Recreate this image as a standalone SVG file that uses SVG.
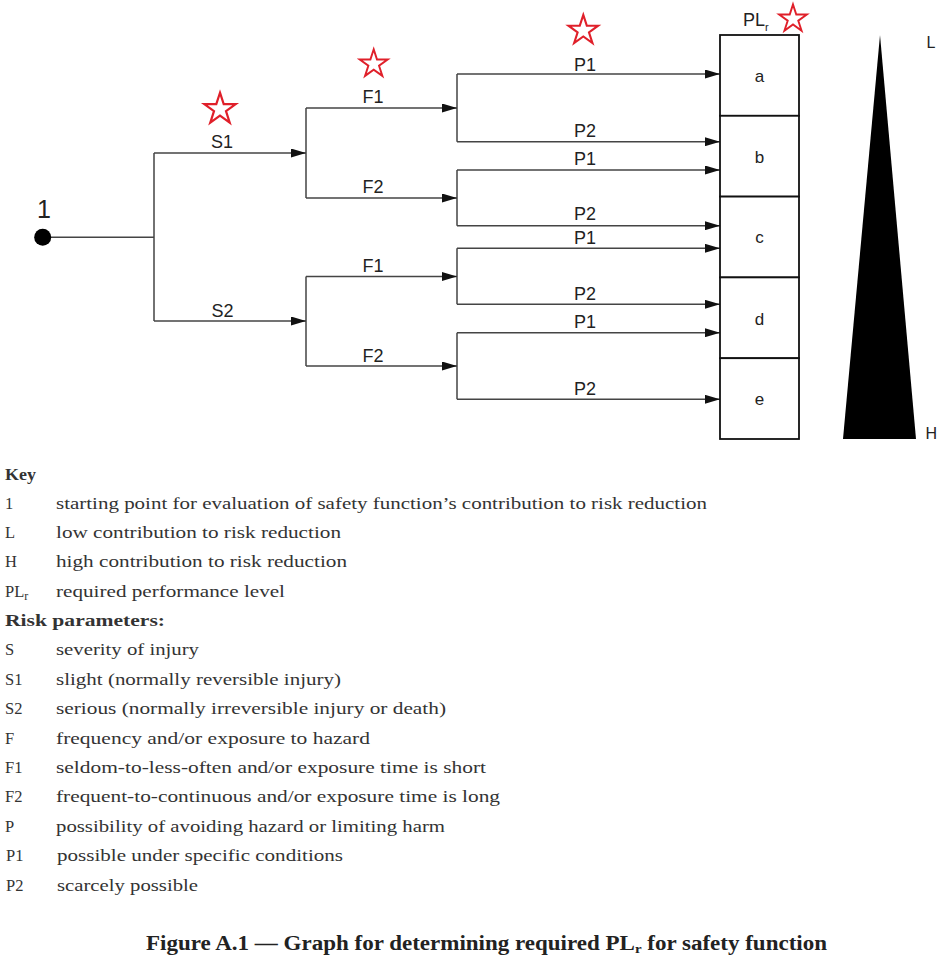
<svg xmlns="http://www.w3.org/2000/svg" width="949" height="964" viewBox="0 0 949 964">
<style>
.lbl{font-family:"Liberation Sans",Arial,sans-serif;font-size:18px;fill:#222;text-anchor:middle}
.cell{fill:#fff;stroke:#111;stroke-width:1.8}
.con{fill:none;stroke:#444;stroke-width:1.5}
.star{fill:none;stroke:#e0202a;stroke-width:2}
.key{font-family:"Liberation Serif","Times New Roman",serif;font-size:16.5px;fill:#333}
.keyb{font-family:"Liberation Serif","Times New Roman",serif;font-size:16.5px;font-weight:bold;fill:#333}
.cap{font-family:"Liberation Serif","Times New Roman",serif;font-size:20px;font-weight:bold;fill:#222}
</style>
<defs>
<marker id="arr" viewBox="0 0 15 9" refX="15" refY="4.5" markerWidth="15" markerHeight="9" markerUnits="userSpaceOnUse" orient="auto">
<path d="M0,0 L15,4.5 L0,9 Z" fill="#111"/>
</marker>
<path id="starShape" d="M0,-15 L3.37,-4.64 L14.27,-4.64 L5.45,1.77 L8.82,12.14 L0,5.73 L-8.82,12.14 L-5.45,1.77 L-14.27,-4.64 L-3.37,-4.64 Z"/>
</defs>
<rect width="949" height="964" fill="#fff"/>

<g id="connectors">
<path class="con" d="M42.7,237.3 H154 M154,153 V321 M306,108 V198 M306,276.5 V366 M457,74 V141.7 M457,170 V225.7 M457,248.3 V304.3 M457,332.7 V399.3"/>
<path class="con" marker-end="url(#arr)" d="M154,153 H306"/>
<path class="con" marker-end="url(#arr)" d="M154,321 H306"/>
<path class="con" marker-end="url(#arr)" d="M306,108 H457"/>
<path class="con" marker-end="url(#arr)" d="M306,198 H457"/>
<path class="con" marker-end="url(#arr)" d="M306,276.5 H457"/>
<path class="con" marker-end="url(#arr)" d="M306,366 H457"/>
<path class="con" marker-end="url(#arr)" d="M457,74 H720"/>
<path class="con" marker-end="url(#arr)" d="M457,141.7 H720"/>
<path class="con" marker-end="url(#arr)" d="M457,170 H720"/>
<path class="con" marker-end="url(#arr)" d="M457,225.7 H720"/>
<path class="con" marker-end="url(#arr)" d="M457,248.3 H720"/>
<path class="con" marker-end="url(#arr)" d="M457,304.3 H720"/>
<path class="con" marker-end="url(#arr)" d="M457,332.7 H720"/>
<path class="con" marker-end="url(#arr)" d="M457,399.3 H720"/>
<text class="lbl" x="222" y="148">S1</text>
<text class="lbl" x="222.5" y="316.7">S2</text>
<text class="lbl" x="373" y="103">F1</text>
<text class="lbl" x="373" y="193">F2</text>
<text class="lbl" x="373" y="271.7">F1</text>
<text class="lbl" x="373" y="361.7">F2</text>
<text class="lbl" x="585" y="70.7">P1</text>
<text class="lbl" x="585" y="136.7">P2</text>
<text class="lbl" x="585" y="165">P1</text>
<text class="lbl" x="585" y="220">P2</text>
<text class="lbl" x="585" y="243.5">P1</text>
<text class="lbl" x="585" y="300">P2</text>
<text class="lbl" x="585" y="328.3">P1</text>
<text class="lbl" x="585" y="395">P2</text>
</g>

<g id="start">
<circle cx="42.7" cy="237.3" r="8.5" fill="#000"/>
<text class="lbl" x="44" y="218" style="font-size:25px">1</text>
</g>

<g id="plr">
<text class="lbl" x="743" y="26" style="text-anchor:start">PL<tspan font-size="11" dy="5">r</tspan></text>
<rect class="cell" x="720" y="35" width="79" height="80.8"/>
<rect class="cell" x="720" y="115.8" width="79" height="80.8"/>
<rect class="cell" x="720" y="196.6" width="79" height="80.8"/>
<rect class="cell" x="720" y="277.4" width="79" height="80.8"/>
<rect class="cell" x="720" y="358.2" width="79" height="80.8"/>
<text class="lbl" x="759.5" y="82" style="font-size:17px">a</text>
<text class="lbl" x="759.5" y="162.5" style="font-size:17px">b</text>
<text class="lbl" x="759.5" y="243.3" style="font-size:17px">c</text>
<text class="lbl" x="759.5" y="324.5" style="font-size:17px">d</text>
<text class="lbl" x="759.5" y="405" style="font-size:17px">e</text>
</g>

<g id="scale">
<polygon points="880,35 916,439 843,439" fill="#000"/>
<text class="lbl" x="926.5" y="48" style="text-anchor:start;font-size:16px">L</text>
<text class="lbl" x="925.5" y="439" style="text-anchor:start;font-size:16px">H</text>
</g>

<g id="stars">
<use href="#starShape" class="star" transform="translate(220,109.2) scale(1.1)"/>
<use href="#starShape" class="star" transform="translate(373.7,64) scale(0.98)"/>
<use href="#starShape" class="star" transform="translate(583.3,30.5) scale(1.04)"/>
<use href="#starShape" class="star" transform="translate(793,19) scale(0.97)"/>
</g>

<g id="key">
<text class="keyb" x="5" y="480" textLength="31" lengthAdjust="spacingAndGlyphs">Key</text>
<text class="key" x="5" y="509">1</text>
<text class="key" x="56" y="509" textLength="651" lengthAdjust="spacingAndGlyphs">starting point for evaluation of safety function’s contribution to risk reduction</text>
<text class="key" x="5" y="538">L</text>
<text class="key" x="56" y="538" textLength="285" lengthAdjust="spacingAndGlyphs">low contribution to risk reduction</text>
<text class="key" x="5" y="567">H</text>
<text class="key" x="56" y="567" textLength="291" lengthAdjust="spacingAndGlyphs">high contribution to risk reduction</text>
<text class="key" x="5" y="597">PL<tspan font-size="12" dy="3">r</tspan></text>
<text class="key" x="56" y="597" textLength="229" lengthAdjust="spacingAndGlyphs">required performance level</text>
<text class="keyb" x="5" y="626" textLength="160" lengthAdjust="spacingAndGlyphs">Risk parameters:</text>
<text class="key" x="5" y="655">S</text>
<text class="key" x="56" y="655" textLength="143" lengthAdjust="spacingAndGlyphs">severity of injury</text>
<text class="key" x="5" y="685">S1</text>
<text class="key" x="56" y="685" textLength="285" lengthAdjust="spacingAndGlyphs">slight (normally reversible injury)</text>
<text class="key" x="5" y="714">S2</text>
<text class="key" x="56" y="714" textLength="390" lengthAdjust="spacingAndGlyphs">serious (normally irreversible injury or death)</text>
<text class="key" x="5" y="744">F</text>
<text class="key" x="56" y="744" textLength="314" lengthAdjust="spacingAndGlyphs">frequency and/or exposure to hazard</text>
<text class="key" x="5" y="773">F1</text>
<text class="key" x="56" y="773" textLength="430" lengthAdjust="spacingAndGlyphs">seldom-to-less-often and/or exposure time is short</text>
<text class="key" x="5" y="802">F2</text>
<text class="key" x="56" y="802" textLength="444" lengthAdjust="spacingAndGlyphs">frequent-to-continuous and/or exposure time is long</text>
<text class="key" x="5" y="832">P</text>
<text class="key" x="56" y="832" textLength="389" lengthAdjust="spacingAndGlyphs">possibility of avoiding hazard or limiting harm</text>
<text class="key" x="6" y="861">P1</text>
<text class="key" x="57" y="861" textLength="286" lengthAdjust="spacingAndGlyphs">possible under specific conditions</text>
<text class="key" x="6" y="891">P2</text>
<text class="key" x="57" y="891" textLength="141" lengthAdjust="spacingAndGlyphs">scarcely possible</text>
</g>

<g id="caption">
<text class="cap" x="146" y="950" textLength="681" lengthAdjust="spacingAndGlyphs">Figure A.1 — Graph for determining required PL<tspan font-size="13" dy="3">r</tspan><tspan dy="-3"> for safety function</tspan></text>
</g>
</svg>
